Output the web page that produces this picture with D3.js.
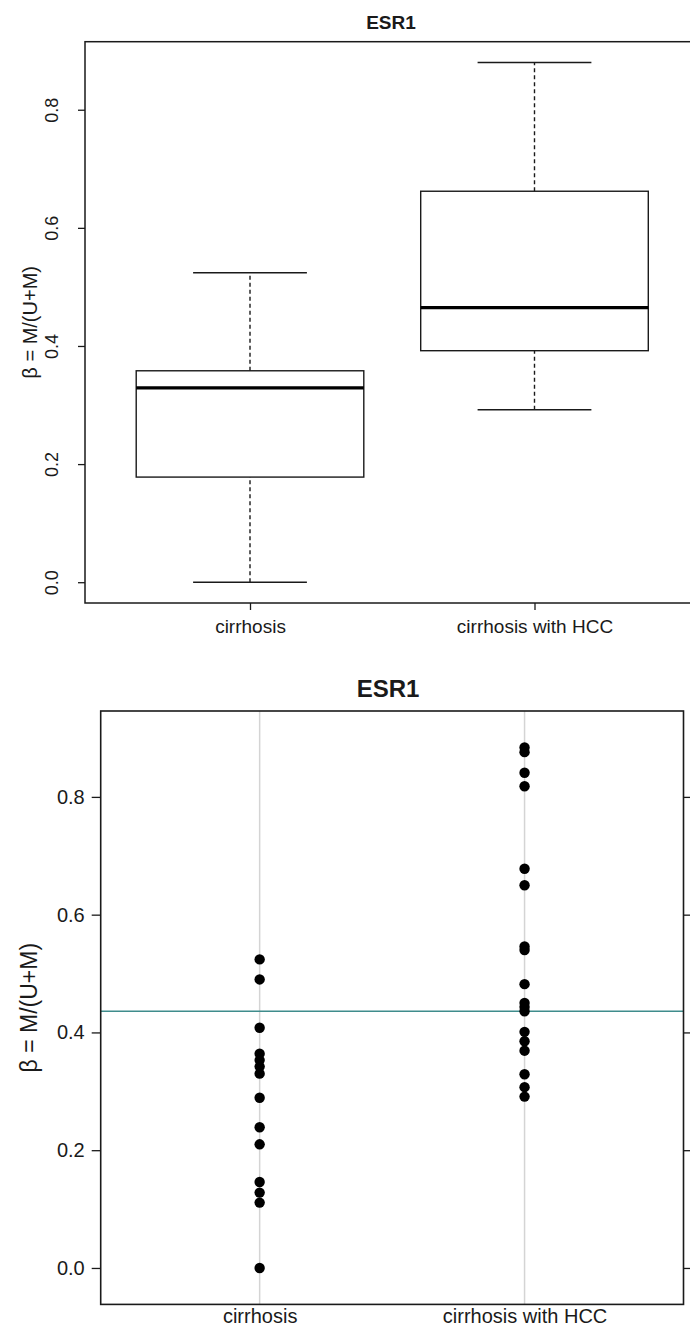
<!DOCTYPE html>
<html>
<head>
<meta charset="utf-8">
<script src="https://cdn.jsdelivr.net/npm/d3@7"></script>
<style>
  body { margin: 0; background: #fff; }
  svg { display: block; font-family: "Liberation Sans", Arial, Helvetica, sans-serif; }
</style>
</head>
<body>
<div id="chart"></div>
<script>

// data
const groups = ["cirrhosis", "cirrhosis with HCC"];
const chartTitle = "ESR1";
const yLabel = "β = M/(U+M)";

// box plot stats per group: lower whisker, lower hinge, median, upper hinge, upper whisker
const boxLow = [0.000, 0.292];
const boxQ1 = [0.178, 0.392];
const boxMed = [0.329, 0.465];
const boxQ3 = [0.358, 0.662];
const boxHigh = [0.524, 0.880];

// single points per group for the strip plot
const cirrhosisVals = [0.524, 0.490, 0.408, 0.364, 0.353, 0.342, 0.330, 0.289, 0.239, 0.210, 0.146, 0.128, 0.111, 0.000];
const hccVals = [0.884, 0.876, 0.841, 0.818, 0.678, 0.650, 0.546, 0.540, 0.482, 0.450, 0.443, 0.436, 0.401, 0.385, 0.369, 0.329, 0.307, 0.291];
const refLine = 0.436;

const topTicks = [0, 0.2, 0.4, 0.6, 0.8];
const botTicks = [0, 0.2, 0.4, 0.6, 0.8];

const width = 690;
const height = 1332;
const ink = "#1a1a1a";

const svg = d3.select("#chart")
  .append("svg")
  .attr("width", width)
  .attr("height", height);

/*

  Top panel: base-R style boxplot

*/

const pTop = {left: 85, right: 699.5, top: 41.7, bottom: 603};

// R pads the data range by 4% on each side
let yMax = d3.max(boxHigh);
let yMin = d3.min(boxLow);
let pad = (yMax - yMin) * 0.04;

const yTop = d3.scaleLinear()
  .domain([yMin - pad, yMax + pad])
  .range([pTop.bottom, pTop.top]);

const xTop = d3.scaleLinear()
  .domain([0.42, 2.58])
  .range([pTop.left, pTop.right]);

const boxes = groups.map((g, i) => ({
  name: g, x: i + 1,
  lo: boxLow[i], q1: boxQ1[i], med: boxMed[i], q3: boxQ3[i], hi: boxHigh[i]
}));

const gTop = svg.append("g");

// whiskers (dashed)
gTop.selectAll(".whiskLo")
  .data(boxes)
  .enter()
  .append("line")
    .attr("x1", d => xTop(d.x)).attr("x2", d => xTop(d.x))
    .attr("y1", d => yTop(d.lo)).attr("y2", d => yTop(d.q1))
    .attr("stroke", ink).attr("stroke-width", 1.4)
    .attr("stroke-dasharray", "4,3");

gTop.selectAll(".whiskHi")
  .data(boxes)
  .enter()
  .append("line")
    .attr("x1", d => xTop(d.x)).attr("x2", d => xTop(d.x))
    .attr("y1", d => yTop(d.q3)).attr("y2", d => yTop(d.hi))
    .attr("stroke", ink).attr("stroke-width", 1.4)
    .attr("stroke-dasharray", "4,3");

// staples
["lo", "hi"].forEach(k => {
  gTop.selectAll(".staple-" + k)
    .data(boxes)
    .enter()
    .append("line")
      .attr("x1", d => xTop(d.x - 0.2)).attr("x2", d => xTop(d.x + 0.2))
      .attr("y1", d => yTop(d[k])).attr("y2", d => yTop(d[k]))
      .attr("stroke", ink).attr("stroke-width", 1.4);
});

// boxes
gTop.selectAll("rect")
  .data(boxes)
  .enter()
  .append("rect")
    .attr("x", d => xTop(d.x - 0.4))
    .attr("y", d => yTop(d.q3))
    .attr("width", d => xTop(d.x + 0.4) - xTop(d.x - 0.4))
    .attr("height", d => yTop(d.q1) - yTop(d.q3))
    .attr("fill", "none")
    .attr("stroke", ink).attr("stroke-width", 1.4);

// medians
gTop.selectAll(".median")
  .data(boxes)
  .enter()
  .append("line")
    .attr("x1", d => xTop(d.x - 0.4)).attr("x2", d => xTop(d.x + 0.4))
    .attr("y1", d => yTop(d.med)).attr("y2", d => yTop(d.med))
    .attr("stroke", "#000").attr("stroke-width", 3.2);

// frame
gTop.append("rect")
  .attr("x", pTop.left).attr("y", pTop.top)
  .attr("width", pTop.right - pTop.left)
  .attr("height", pTop.bottom - pTop.top)
  .attr("fill", "none")
  .attr("stroke", ink).attr("stroke-width", 1.5);

// y axis with rotated labels
const yAxisTop = gTop.append("g")
  .attr("transform", `translate(${pTop.left},0)`)
  .call(d3.axisLeft(yTop).tickValues(topTicks).tickSize(7).tickPadding(0).tickFormat(d3.format(".1f")));
yAxisTop.select(".domain").remove();
yAxisTop.selectAll("line").attr("stroke", ink).attr("stroke-width", 1.3);
yAxisTop.selectAll("text")
  .attr("x", null).attr("dy", null)
  .attr("text-anchor", "middle")
  .attr("transform", "translate(-27,0) rotate(-90)")
  .attr("font-size", "18px").attr("fill", ink);

// x axis
const xAxisTop = gTop.append("g")
  .attr("transform", `translate(0,${pTop.bottom})`)
  .call(d3.axisBottom(xTop).tickValues([1, 2]).tickSize(7).tickPadding(10).tickFormat(d => groups[d - 1]));
xAxisTop.select(".domain").remove();
xAxisTop.selectAll("line").attr("stroke", ink).attr("stroke-width", 1.3);
xAxisTop.selectAll("text").attr("font-size", "19px").attr("fill", ink);

gTop.append("text")
  .attr("transform", `translate(37,${(pTop.top + pTop.bottom) / 2}) rotate(-90)`)
  .attr("text-anchor", "middle")
  .attr("font-size", "20px").attr("fill", ink)
  .text(yLabel);

gTop.append("text")
  .attr("x", 391).attr("y", 22)
  .attr("dy", "0.35em")
  .attr("text-anchor", "middle")
  .attr("font-size", "19px").attr("font-weight", "bold").attr("fill", ink)
  .text(chartTitle);

/*

  Bottom panel: lattice style strip plot

*/

const pBot = {left: 100.7, right: 683.5, top: 711, bottom: 1304.4};

let allVals = cirrhosisVals.concat(hccVals);
let bMax = d3.max(allVals);
let bMin = d3.min(allVals);
let bPad = (bMax - bMin) * 0.07;

const yBot = d3.scaleLinear()
  .domain([bMin - bPad, bMax + bPad])
  .range([pBot.bottom, pBot.top]);

const xBot = d3.scaleLinear()
  .domain([0.4, 2.6])
  .range([pBot.left, pBot.right]);

const points = cirrhosisVals.map(v => ({g: 1, v: v}))
  .concat(hccVals.map(v => ({g: 2, v: v})));

const gBot = svg.append("g");

// grey guide lines at each group
gBot.selectAll(".guide")
  .data([1, 2])
  .enter()
  .append("line")
    .attr("x1", d => xBot(d)).attr("x2", d => xBot(d))
    .attr("y1", pBot.top).attr("y2", pBot.bottom)
    .attr("stroke", "#d4d4d4").attr("stroke-width", 1.5);

// reference line
gBot.append("line")
  .attr("x1", pBot.left).attr("x2", pBot.right)
  .attr("y1", yBot(refLine)).attr("y2", yBot(refLine))
  .attr("stroke", "#3f8c8c").attr("stroke-width", 1.3);

gBot.selectAll("circle")
  .data(points)
  .enter()
  .append("circle")
    .attr("cx", d => xBot(d.g))
    .attr("cy", d => yBot(d.v))
    .attr("r", 5.2)
    .attr("fill", "#000");

gBot.append("rect")
  .attr("x", pBot.left).attr("y", pBot.top)
  .attr("width", pBot.right - pBot.left)
  .attr("height", pBot.bottom - pBot.top)
  .attr("fill", "none")
  .attr("stroke", ink).attr("stroke-width", 1.6);

const yAxisBot = gBot.append("g")
  .attr("transform", `translate(${pBot.left},0)`)
  .call(d3.axisLeft(yBot).tickValues(botTicks).tickSize(9).tickPadding(7).tickFormat(d3.format(".1f")));
yAxisBot.select(".domain").remove();
yAxisBot.selectAll("line").attr("stroke", ink).attr("stroke-width", 1.3);
yAxisBot.selectAll("text").attr("font-size", "20px").attr("fill", ink);

// ticks on the right side, no labels
const yAxisBotR = gBot.append("g")
  .attr("transform", `translate(${pBot.right},0)`)
  .call(d3.axisRight(yBot).tickValues(botTicks).tickSize(7).tickFormat(""));
yAxisBotR.select(".domain").remove();
yAxisBotR.selectAll("line").attr("stroke", ink).attr("stroke-width", 1.3);

const xAxisBot = gBot.append("g")
  .attr("transform", `translate(0,${pBot.bottom})`)
  .call(d3.axisBottom(xBot).tickValues([1, 2]).tickSize(0).tickPadding(4).tickFormat(d => groups[d - 1]));
xAxisBot.select(".domain").remove();
xAxisBot.selectAll("text").attr("font-size", "20px").attr("fill", ink);

gBot.append("text")
  .attr("transform", `translate(37,${(pBot.top + pBot.bottom) / 2}) rotate(-90)`)
  .attr("text-anchor", "middle")
  .attr("font-size", "23px").attr("fill", ink)
  .text(yLabel);

gBot.append("text")
  .attr("x", 388).attr("y", 689)
  .attr("dy", "0.35em")
  .attr("text-anchor", "middle")
  .attr("font-size", "24px").attr("font-weight", "bold").attr("fill", ink)
  .text(chartTitle);

</script>
</body>
</html>
